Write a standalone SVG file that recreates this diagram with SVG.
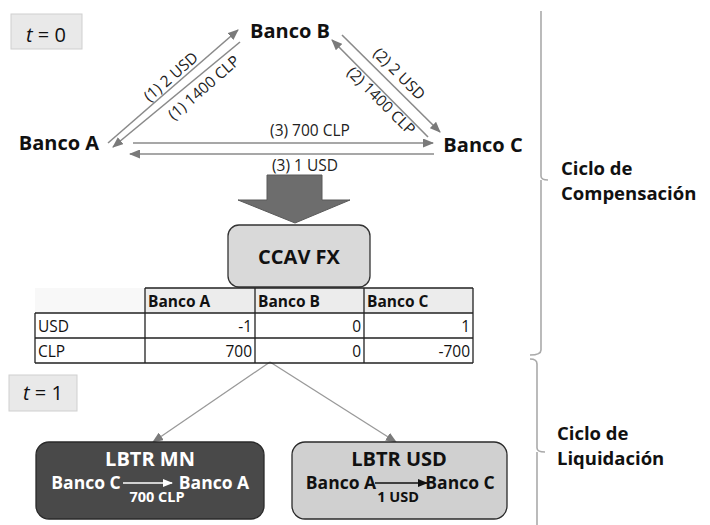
<svg xmlns="http://www.w3.org/2000/svg" width="710" height="525" viewBox="0 0 710 525">
<style>
.bank{font-family:"Open Sans","Liberation Sans",sans-serif;font-weight:bold;font-size:20px;fill:#111;text-anchor:middle}
.lbl{font-family:"Open Sans","Liberation Sans",sans-serif;font-size:15.5px;fill:#222;text-anchor:middle}
.conn{stroke:#8a8a8a;stroke-width:1.6;fill:none}
.thin{stroke:#999;stroke-width:1.3;fill:none}
.tbl{stroke:#222;stroke-width:1.3;fill:none}
.th{font-family:"Open Sans","Liberation Sans",sans-serif;font-weight:bold;font-size:15.5px;fill:#111}
.td{font-family:"Open Sans","Liberation Sans",sans-serif;font-size:15.5px;fill:#111}
.num{font-family:"Open Sans","Liberation Sans",sans-serif;font-size:15.5px;fill:#111;text-anchor:end}
.tbox{fill:#e9e9e9;stroke:#cfcfcf;stroke-width:1}
.tt{font-family:"Open Sans","Liberation Sans",sans-serif;font-size:20px;fill:#111}
.brace{stroke:#aaa;stroke-width:1.6;fill:none}
.side{font-family:"Open Sans","Liberation Sans",sans-serif;font-weight:bold;font-size:18.5px;fill:#111}
.bx{font-family:"Open Sans","Liberation Sans",sans-serif;font-weight:bold;text-anchor:middle}
</style>
<defs>
<marker id="ah" markerWidth="11" markerHeight="9" refX="10" refY="4.5" orient="auto" markerUnits="userSpaceOnUse">
<path d="M0,0 L11,4.5 L0,9 Z" fill="#7a7a7a"/>
</marker>
<marker id="ahw" markerWidth="10" markerHeight="8" refX="9" refY="4" orient="auto" markerUnits="userSpaceOnUse">
<path d="M0,0 L10,4 L0,8 Z" fill="#ffffff"/>
</marker>
<marker id="ahk" markerWidth="10" markerHeight="8" refX="9" refY="4" orient="auto" markerUnits="userSpaceOnUse">
<path d="M0,0 L10,4 L0,8 Z" fill="#111"/>
</marker>
</defs>
<rect width="710" height="525" fill="#ffffff"/>

<g id="t0">
<rect class="tbox" x="11" y="14" width="71" height="35"/>
<text class="tt" x="46" y="42" text-anchor="middle"><tspan font-style="italic">t</tspan> = 0</text>
</g>

<g id="bancoA"><text class="bank" x="59" y="150">Banco A</text></g>
<g id="bancoB"><text class="bank" x="290" y="38">Banco B</text></g>
<g id="bancoC"><text class="bank" x="483" y="152">Banco C</text></g>

<g id="connectors">
<line class="conn" x1="108" y1="143" x2="238" y2="30" marker-end="url(#ah)"/>
<line class="conn" x1="240" y1="42" x2="113" y2="147" marker-end="url(#ah)"/>
<line class="conn" x1="342" y1="35" x2="440" y2="132" marker-end="url(#ah)"/>
<line class="conn" x1="428" y1="137" x2="332" y2="40" marker-end="url(#ah)"/>
<line class="conn" x1="133" y1="143" x2="433" y2="143" marker-end="url(#ah)"/>
<line class="conn" x1="434" y1="154" x2="130" y2="154" marker-end="url(#ah)"/>
<line class="thin" x1="270" y1="362" x2="153" y2="442" marker-end="url(#ah)"/>
<line class="thin" x1="270" y1="362" x2="396" y2="442" marker-end="url(#ah)"/>
<polygon points="267,175 322,175 322,200 350,200 295,223 238,200 267,200" fill="#6d6d6d" stroke="#5a5a5a" stroke-width="1"/>
</g>

<g id="labels">
<text class="lbl" transform="translate(171,77) rotate(-41)" y="5">(1) 2 USD</text>
<text class="lbl" transform="translate(204,88) rotate(-41)" y="5">(1) 1400 CLP</text>
<text class="lbl" transform="translate(399,74) rotate(45)" y="5">(2) 2 USD</text>
<text class="lbl" transform="translate(381,101) rotate(45)" y="5">(2) 1400 CLP</text>
<text class="lbl" x="310" y="136">(3) 700 CLP</text>
<text class="lbl" x="305" y="171">(3) 1 USD</text>
</g>

<g id="ccav">
<rect x="228" y="225" width="142" height="62" rx="11" fill="#d9d9d9" stroke="#333" stroke-width="1.3"/>
<text class="bx" x="299" y="264" font-size="20" fill="#111">CCAV FX</text>
</g>

<g id="table">
<rect x="35" y="288" width="110" height="25" fill="#f8f8f8"/>
<rect x="145" y="288" width="328" height="25" fill="#ececec"/>
<path class="tbl" d="M145,288 H473 M35,313 H473 M35,338 H473 M35,363 H473 M35,313 V363 M145,288 V363 M255,288 V363 M364,288 V363 M473,288 V363"/>
<text class="th" x="148" y="307">Banco A</text>
<text class="th" x="258" y="307">Banco B</text>
<text class="th" x="367" y="307">Banco C</text>
<text class="td" x="38" y="332">USD</text>
<text class="td" x="38" y="357">CLP</text>
<text class="num" x="252" y="332">-1</text>
<text class="num" x="361" y="332">0</text>
<text class="num" x="470" y="332">1</text>
<text class="num" x="252" y="357">700</text>
<text class="num" x="361" y="357">0</text>
<text class="num" x="470" y="357">-700</text>
</g>

<g id="t1">
<rect class="tbox" x="9" y="375" width="68" height="36"/>
<text class="tt" x="43" y="400" text-anchor="middle"><tspan font-style="italic">t</tspan> = 1</text>
</g>

<g id="lbtrmn">
<rect x="36" y="442" width="228" height="77" rx="13" fill="#494949" stroke="#2a2a2a" stroke-width="1.3"/>
<text class="bx" x="150" y="466" font-size="20" fill="#fff">LBTR MN</text>
<text class="bx" x="86" y="489" font-size="17.5" fill="#fff">Banco C</text>
<text class="bx" x="214" y="489" font-size="17.5" fill="#fff">Banco A</text>
<line x1="123" y1="483" x2="172" y2="483" stroke="#fff" stroke-width="1.3" marker-end="url(#ahw)"/>
<text class="bx" x="157" y="502" font-size="14.5" fill="#fff">700 CLP</text>
</g>

<g id="lbtrusd">
<rect x="292" y="442" width="215" height="77" rx="13" fill="#d0d0d0" stroke="#2a2a2a" stroke-width="1.3"/>
<text class="bx" x="399" y="466" font-size="20" fill="#111">LBTR USD</text>
<text class="bx" x="341" y="489" font-size="17.5" fill="#111">Banco A</text>
<text class="bx" x="460" y="489" font-size="17.5" fill="#111">Banco C</text>
<line x1="375" y1="483" x2="427" y2="483" stroke="#111" stroke-width="1.3" marker-end="url(#ahk)"/>
<text class="bx" x="398" y="502" font-size="14.5" fill="#111">1 USD</text>
</g>

<g id="brackets">
<path class="brace" d="M541,11 V176 Q541,180 548,180 M541,180 V350 Q541,355 530,355"/>
<path class="brace" d="M530,359 Q537,359 537,364 V448 Q537,452 545,452 M537,452 V525"/>
</g>

<g id="sidelabels">
<text class="side" x="561" y="175">Ciclo de</text>
<text class="side" x="561" y="200">Compensación</text>
<text class="side" x="557" y="440">Ciclo de</text>
<text class="side" x="557" y="465">Liquidación</text>
</g>
</svg>
